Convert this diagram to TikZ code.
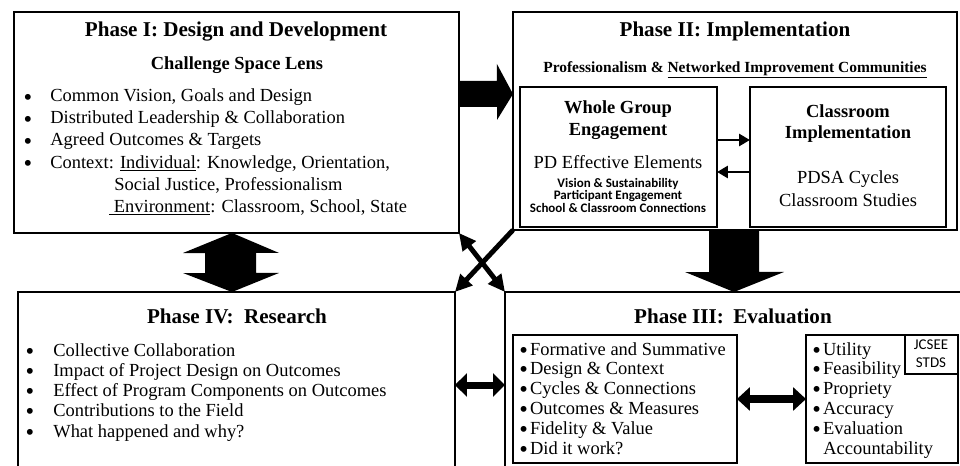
\documentclass[tikz,border=0pt]{standalone}
\usepackage{fontspec}
\setmainfont{Liberation Serif}
\newfontfamily\calibsf{Carlito}
\usetikzlibrary{arrows.meta}

\newcommand{\bigdot}{\smash{\raisebox{-1.8pt}{\fontsize{14}{14}\selectfont\textbullet}}}

\tikzset{
  phase/.style={draw, line width=1.4pt, anchor=north west, inner sep=0pt, outer sep=0pt},
  inbox/.style={draw, line width=1.6pt, anchor=north west, inner sep=0pt, outer sep=0pt},
  thinbox/.style={draw, line width=0.7pt, anchor=north west, inner sep=0pt, outer sep=0pt},
  ttl/.style={anchor=base, inner sep=0pt, font=\fontsize{12}{14}\selectfont\bfseries},
  sub/.style={anchor=base, inner sep=0pt, font=\fontsize{10.5}{12.5}\selectfont\bfseries},
  txt/.style={anchor=base west, inner sep=0pt, text height=7.5pt, text depth=2pt,
    font=\fontsize{10.5}{12.5}\selectfont},
  ctxt/.style={anchor=base, inner sep=0pt, font=\fontsize{10.5}{12.5}\selectfont},
  bul/.style={anchor=base, inner sep=0pt, text height=5pt, text depth=0pt,
    font=\fontsize{10.5}{12.5}\selectfont},
  tinysf/.style={anchor=base, inner sep=0pt, text height=5.2pt, text depth=1.4pt,
    font=\calibsf\bfseries\fontsize{7.4}{8}\selectfont},
  smallsf/.style={anchor=base, inner sep=0pt, font=\calibsf\fontsize{8.5}{10}\selectfont},
  xarr/.style={line width=2.8pt},
  tip/.style={-{Triangle[length=0.22cm,width=0.24cm]}, line width=1.6pt}
}

\begin{document}
\begin{tikzpicture}[x=0.02cm, y=-0.02cm]
  \useasboundingbox (0,0) rectangle (960,466);
  \clip (0,0) rectangle (960,466);

  % boxes
  \node[phase, minimum width=8.9cm, minimum height=4.42cm] (p1) at (14,12) {};
  \node[phase, minimum width=8.88cm, minimum height=4.36cm] (p2) at (513,12) {};
  \node[inbox, minimum width=3.94cm, minimum height=2.8cm] (wg) at (520,87) {};
  \node[inbox, minimum width=3.92cm, minimum height=2.8cm] (ci) at (750,87) {};
  \node[phase, minimum width=8.74cm, minimum height=4cm] (p4) at (18,292) {};
  \node[phase, minimum width=9.4cm, minimum height=4cm] (p3) at (505,292) {};
  \node[thinbox, minimum width=4.48cm, minimum height=2.56cm] (ev) at (513,335) {};
  \node[thinbox, minimum width=3.04cm, minimum height=2.56cm] (js) at (806,335) {};
  \node[thinbox, minimum width=1.06cm, minimum height=0.78cm] (jc) at (905,335) {};

  % Phase I
  \node[ttl] (t1) at (236,37) {Phase I: Design and Development};
  \node[sub] (s1) at (237,70) {Challenge Space Lens};
  \foreach \entry [count=\i] in {{Common Vision, Goals and Design},
      {Distributed Leadership \& Collaboration}, {Agreed Outcomes \& Targets},
      {Context: \underline{Individual}: Knowledge, Orientation,}} {
    \node[bul] (bI\i) at (28, {80+22*\i}) {\bigdot};
    \node[txt] (lI\i) at (50, {80+22*\i}) {\entry};
  }
  \node[txt] (lI5) at (114,190) {Social Justice, Professionalism};
  \node[txt] (lI6) at (109,212) {\underline{\ Environment}: Classroom, School, State};

  % Phase II
  \node[ttl] (t2) at (735,37) {Phase II: Implementation};
  \node[anchor=base, inner sep=0pt, font=\fontsize{8.8}{10}\selectfont\bfseries] (s2) at (735,72)
    {Professionalism \& \underline{Networked Improvement Communities}};
  \node[sub] (wg1) at (618,113) {Whole Group};
  \node[sub] (wg2) at (618,135) {Engagement};
  \node[ctxt] (wg3) at (618,168) {PD Effective Elements};
  \node[tinysf] (wg4) at (618,187) {Vision \& Sustainability};
  \node[tinysf] (wg5) at (618,199.5) {Participant Engagement};
  \node[tinysf] (wg6) at (618,212) {School \& Classroom Connections};
  \node[sub] (ci1) at (848,117) {Classroom};
  \node[sub] (ci2) at (848,138) {Implementation};
  \node[ctxt] (ci3) at (848,183) {PDSA Cycles};
  \node[ctxt] (ci4) at (848,206) {Classroom Studies};
  \draw[tip] (wg.east |- 0,140) -- (ci.west |- 0,140);
  \draw[tip] (ci.west |- 0,172) -- (wg.east |- 0,172);

  % Phase IV
  \node[ttl] (t4) at (237,323) {Phase IV:\hspace{0.5em}Research};
  \foreach \entry [count=\i] in {{Collective Collaboration},
      {Impact of Project Design on Outcomes}, {Effect of Program Components on Outcomes},
      {Contributions to the Field}, {What happened and why?}} {
    \node[bul] (bIV\i) at (30, {335.75+20.25*\i}) {\bigdot};
    \node[txt] (lIV\i) at (53, {335.75+20.25*\i}) {\entry};
  }

  % Phase III
  \node[ttl] (t3) at (733,323) {Phase III:\hspace{0.45em}Evaluation};
  \foreach \entry [count=\i] in {{Formative and Summative}, {Design \& Context},
      {Cycles \& Connections}, {Outcomes \& Measures}, {Fidelity \& Value}, {Did it work?}} {
    \node[txt] (lIII\i) at (519, {335.2+19.8*\i}) {\bigdot\hspace{1.2pt}\entry};
  }
  \foreach \entry [count=\i] in {Utility, Feasibility, Propriety, Accuracy, Evaluation} {
    \node[txt] (rIII\i) at (812, {335.2+19.8*\i}) {\bigdot\hspace{1.2pt}\entry};
  }
  \node[txt] (rIII6) at (823,454) {Accountability};
  \node[smallsf] (jc1) at (931,349) {JCSEE};
  \node[smallsf] (jc2) at (931,367) {STDS};

  % block arrows
  \fill (p1.east |- 0,94) ++(0,-13) -- ++(38,0) -- ++(0,-17) -- (p2.west |- 0,94)
    -- ++(-16,26) -- ++(0,-13) -- ++(-38,0) -- cycle;
  \fill (p1.south -| 232,0) -- ++(47,20) -- ++(-23,0) -- ++(0,20) -- ++(23,0)
    -- (p4.north -| 232,0) -- ++(-49,-19) -- ++(22,0) -- ++(0,-20) -- ++(-22,0) -- cycle;
  \fill (p2.south -| 709,0) -- ++(50,0) -- ++(0,42) -- ++(25,0) -- (p3.north -| 734,0)
    -- ++(-49,-20) -- ++(24,0) -- cycle;

  % connectors
  \draw[xarr, {Triangle[length=0.34cm,width=0.32cm]}-{Triangle[length=0.34cm,width=0.32cm]}]
    (p1.south east) -- (p3.north west);
  \draw[xarr, -{Triangle[length=0.34cm,width=0.32cm]}] (p2.south west) -- (p4.north east);
  \draw[line width=0.14cm, {Triangle[length=0.24cm,width=0.46cm]}-{Triangle[length=0.24cm,width=0.46cm]}]
    (p4.east |- 0,385) -- (p3.west |- 0,385);
  \draw[line width=0.16cm, {Triangle[length=0.26cm,width=0.46cm]}-{Triangle[length=0.26cm,width=0.46cm]}]
    (ev.east) -- (js.west);
\end{tikzpicture}
\end{document}
